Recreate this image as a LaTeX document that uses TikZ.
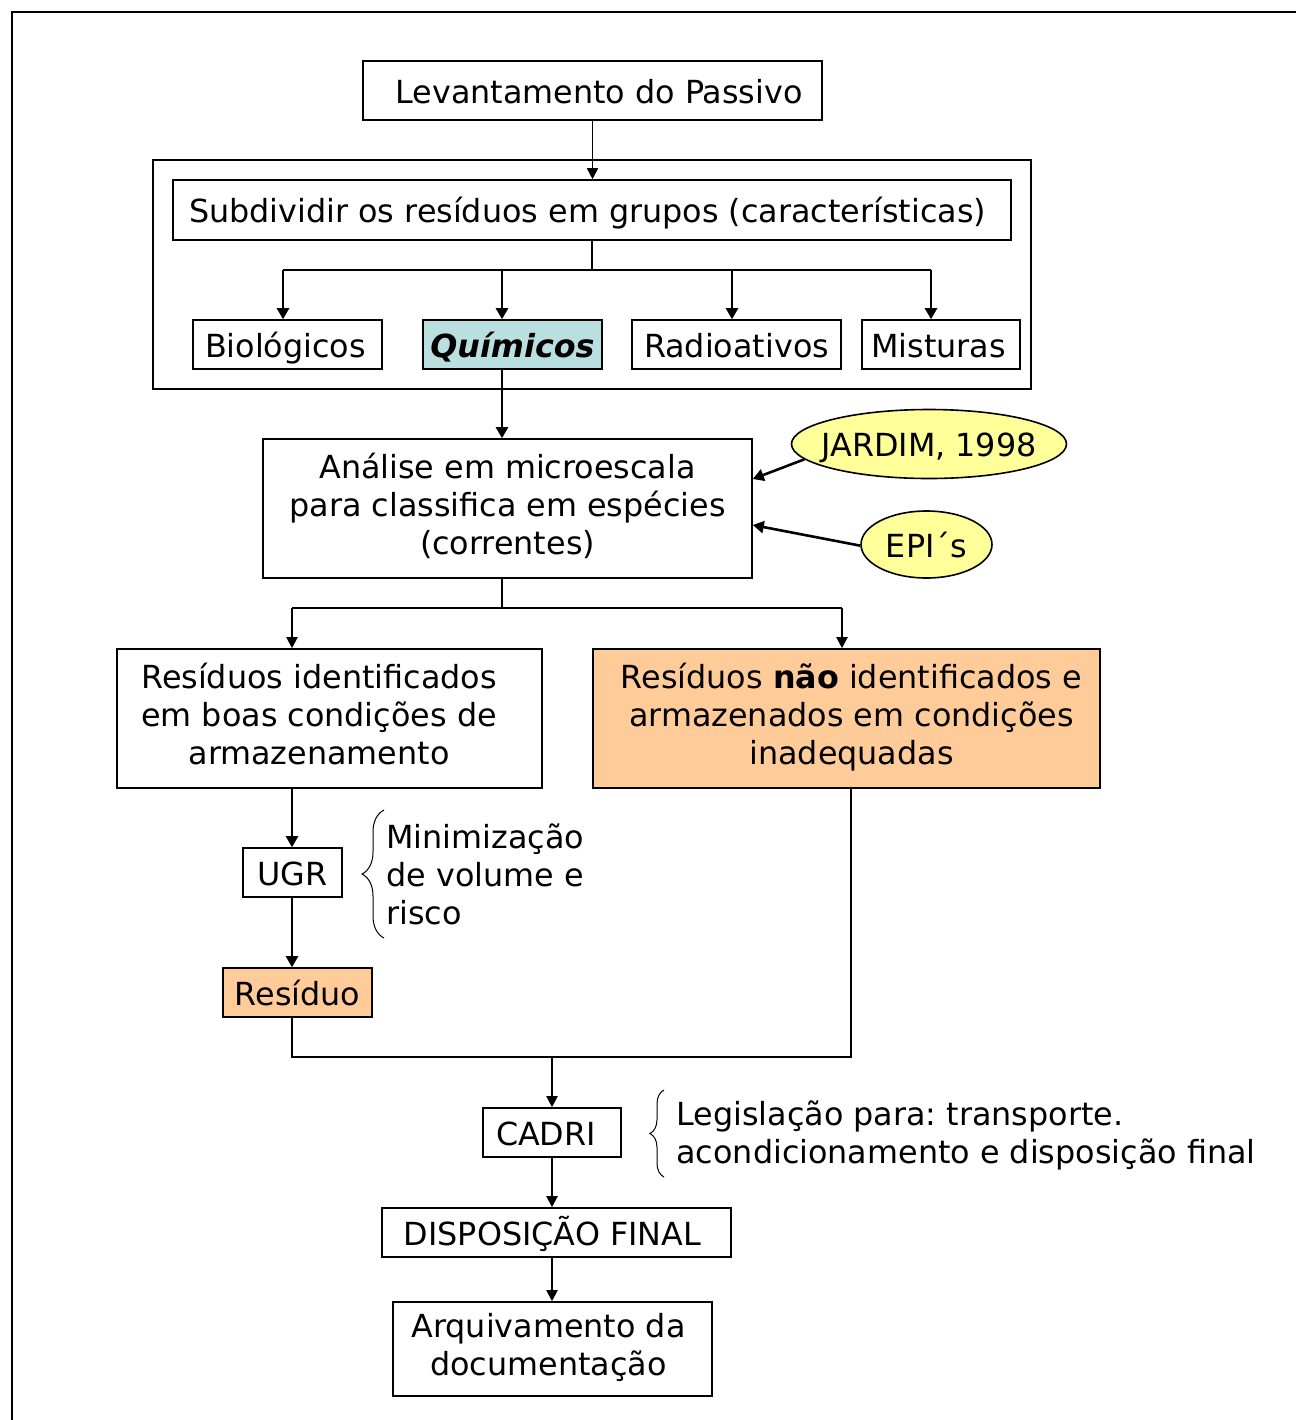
\documentclass[tikz,border=0pt]{standalone}
\usepackage{fontspec}
\setmainfont{DejaVu Sans}
\usetikzlibrary{arrows.meta,shapes.geometric,calc,decorations.pathreplacing}
\definecolor{quifill}{HTML}{B9DFE0}
\definecolor{orfill}{HTML}{FFCC99}
\definecolor{yefill}{HTML}{FFFF99}
\newcommand{\lines}[1]{\begin{tabular}{@{}c@{}}#1\end{tabular}}
\begin{document}
\begin{tikzpicture}[x=0.5pt,y=-0.5pt,
  every node/.style={font=\fontsize{15.9pt}{19pt}\selectfont},
  boxnode/.style={draw,line width=0.8pt,inner sep=0pt},
  one/.style={text height=12.5pt,text depth=0pt},
  ell/.style={draw,ellipse,fill=yefill,line width=0.8pt,inner sep=0pt,text height=12.5pt,text depth=0pt},
  arr/.style={line width=1pt,-{Triangle[length=5.5pt,width=5.5pt]}},
  tarr/.style={line width=1.3pt,-{Triangle[length=5.5pt,width=6pt]}},
  ln/.style={line width=0.8pt},
  bracedeco/.style={decorate,line width=0.5pt}]
\useasboundingbox (0,0) rectangle (1296,1420);
% outer frame (top and left edges visible)
\draw[line width=1pt] (12,1420) -- (12,12) -- (1296,12);

\node[boxnode,one,minimum width=229.5pt,minimum height=29.5pt] (lev) at (592.5,90.5) {\hspace*{6.5pt}Levantamento do Passivo};
\node[draw,line width=0.8pt,minimum width=439pt,minimum height=114.5pt,inner sep=0pt] (grp) at (592,274.5) {};
\node[boxnode,one,minimum width=419pt,minimum height=30pt] (sub) at (592,210) {\hspace*{-4.5pt}Subdividir os resíduos em grupos (características)};
\node[boxnode,one,minimum width=94.5pt,minimum height=24.5pt] (bio) at (287.5,344.5) {\hspace*{-2pt}Biológicos};
\node[boxnode,one,fill=quifill,minimum width=89.5pt,minimum height=24.5pt] (qui) at (512.5,344.5) {\bfseries\itshape Químicos};
\node[boxnode,one,minimum width=104.5pt,minimum height=24.5pt] (rad) at (736.5,344.5) {Radioativos};
\node[boxnode,one,minimum width=79pt,minimum height=24.5pt] (mis) at (941,344.5) {\hspace*{-2.5pt}Misturas};

\node[boxnode,minimum width=244.5pt,minimum height=69.5pt] (ana) at (507.5,508.5) {\lines{Análise em microescala\\para classifica em espécies\\(correntes)}};
\node[ell,minimum width=137.5pt,minimum height=34.5pt] (jar) at (929,444) {\makebox[0pt]{JARDIM, 1998}};
\node[ell,minimum width=65.5pt,minimum height=33.5pt] (epi) at (926.5,544.5) {\makebox[0pt]{EPI´s}};

\node[boxnode,minimum width=212.5pt,minimum height=69.5pt] (rid) at (329.5,718.5) {\hspace*{-10.5pt}\lines{Resíduos identificados\\em boas condições de\\armazenamento}};
\node[boxnode,fill=orfill,minimum width=253.5pt,minimum height=69.5pt] (rna) at (846.5,718.5) {\hspace*{5pt}\lines{Resíduos \textbf{não} identificados e\\armazenados em condições\\inadequadas}};

\node[boxnode,one,minimum width=49.5pt,minimum height=24.5pt] (ugr) at (292.5,872.5) {UGR};
\node[anchor=west,align=left,inner sep=0pt] (minz) at (386,874) {Minimização\\de volume e\\risco};
\node[boxnode,one,fill=orfill,minimum width=74.5pt,minimum height=24.5pt] (res) at (297.5,992.5) {Resíduo};

\node[boxnode,one,minimum width=69pt,minimum height=24.5pt] (cad) at (552,1132.5) {\hspace*{-6pt}CADRI};
\node[anchor=west,align=left,inner sep=0pt] (leg) at (676,1135) {Legislação para:\ transporte.\\acondicionamento e disposição final};
\node[boxnode,one,minimum width=174.5pt,minimum height=24.5pt] (dis) at (556.5,1232.5) {\hspace*{-4pt}DISPOSIÇÃO FINAL};
\node[boxnode,minimum width=159.5pt,minimum height=47pt] (arq) at (552.5,1349) {\hspace*{-4pt}\raisebox{1.5pt}{\lines{Arquivamento da\\documentação}}};

% connectors
\draw[arr,line width=0.8pt] (lev.south) -- (lev.south |- sub.north);
\coordinate (j1) at (592,270);
\coordinate (t1) at (283,270);
\coordinate (t2) at (502,270);
\coordinate (t3) at (732,270);
\coordinate (t4) at (931,270);
\draw[ln] (sub.south -| j1) -- (j1);
\draw[ln] (t1) -- (t4);
\draw[tarr] (t1) -- (t1 |- bio.north);
\draw[tarr] (t2) -- (t2 |- qui.north);
\draw[tarr] (t3) -- (t3 |- rad.north);
\draw[tarr] (t4) -- (t4 |- mis.north);
\draw[tarr] (qui.south -| t2) -- (t2 |- ana.north);

\draw[tarr] (jar.187) -- ($(ana.east)+(0,-29.5)$);
\draw[tarr] (epi.181) -- ($(ana.east)+(0,16.5)$);

\coordinate (j2) at (502,608);
\coordinate (u1) at (292,608);
\coordinate (u2) at (842,608);
\draw[ln] (ana.south -| j2) -- (j2);
\draw[ln] (u1) -- (u2);
\draw[arr] (u1) -- (u1 |- rid.north);
\draw[arr] (u2) -- (u2 |- rna.north);

\draw[tarr] (rid.south -| u1) -- (u1 |- ugr.north);
\draw[tarr] (ugr.south -| u1) -- (u1 |- res.north);

\coordinate (m1) at (292,1057);
\coordinate (m2) at (851,1057);
\coordinate (m3) at (552,1057);
\draw[ln] (res.south -| m1) -- (m1) -- (m2) -- (m2 |- rna.south);
\draw[arr] (m3) -- (m3 |- cad.north);
\draw[arr] (cad.south -| m3) -- (m3 |- dis.north);
\draw[arr] (dis.south -| m3) -- (m3 |- arq.north);

% braces
\draw[bracedeco,decoration={brace,amplitude=11pt}] (384,938) -- (384,810);
\draw[bracedeco,decoration={brace,amplitude=7pt}] (664,1177) -- (664,1090);
\end{tikzpicture}
\end{document}
